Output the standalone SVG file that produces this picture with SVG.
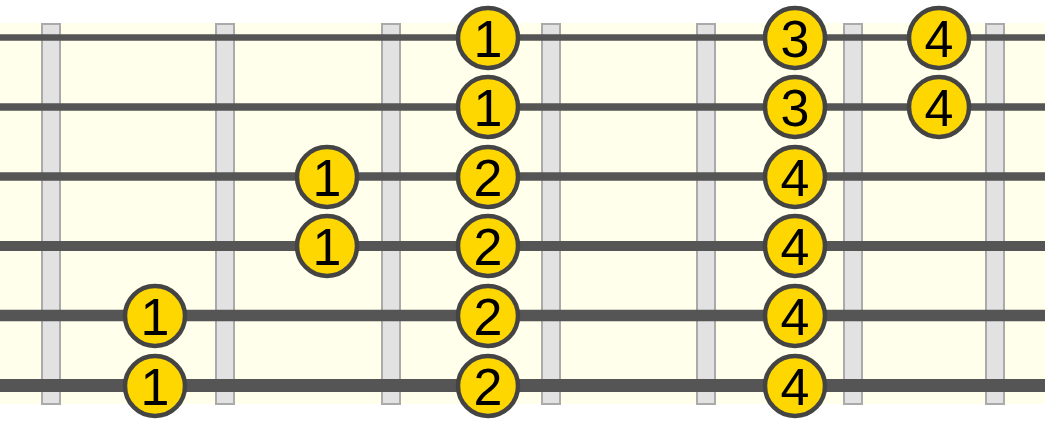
<svg xmlns="http://www.w3.org/2000/svg" width="1045" height="424" viewBox="0 0 1045 424">
<style>
.fret{fill:#e2e2e2;stroke:#aaaaaa;stroke-width:2}
.str{stroke:#555555}
.dot circle{fill:#ffd700;stroke:#444444;stroke-width:4.5}
.dot text{font-family:"Liberation Sans",Arial,sans-serif;font-size:52px;fill:#000;text-anchor:middle}
</style>
<rect x="0" y="23" width="1045" height="381" fill="#ffffec"/>
<g id="frets">
<rect class="fret" x="42" y="24" width="18" height="380"/>
<rect class="fret" x="216" y="24" width="18" height="380"/>
<rect class="fret" x="382" y="24" width="18" height="380"/>
<rect class="fret" x="542" y="24" width="18" height="380"/>
<rect class="fret" x="697" y="24" width="18" height="380"/>
<rect class="fret" x="844" y="24" width="18" height="380"/>
<rect class="fret" x="986" y="24" width="18" height="380"/>
</g>
<g id="strings">
<line class="str" x1="0" y1="37.5" x2="1045" y2="37.5" stroke-width="6.5"/>
<line class="str" x1="0" y1="107" x2="1045" y2="107" stroke-width="7.5"/>
<line class="str" x1="0" y1="176.5" x2="1045" y2="176.5" stroke-width="8.5"/>
<line class="str" x1="0" y1="246" x2="1045" y2="246" stroke-width="10"/>
<line class="str" x1="0" y1="315.5" x2="1045" y2="315.5" stroke-width="11.5"/>
<line class="str" x1="0" y1="385.5" x2="1045" y2="385.5" stroke-width="13"/>
</g>
<g id="n1" class="dot"><circle cx="488" cy="38" r="30"/><text x="488" y="57">1</text></g>
<g id="n2" class="dot"><circle cx="795" cy="38" r="30"/><text x="795" y="57">3</text></g>
<g id="n3" class="dot"><circle cx="939" cy="38" r="30"/><text x="939" y="57">4</text></g>
<g id="n4" class="dot"><circle cx="488" cy="107" r="30"/><text x="488" y="126">1</text></g>
<g id="n5" class="dot"><circle cx="795" cy="107" r="30"/><text x="795" y="126">3</text></g>
<g id="n6" class="dot"><circle cx="939" cy="107" r="30"/><text x="939" y="126">4</text></g>
<g id="n7" class="dot"><circle cx="327" cy="177" r="30"/><text x="327" y="196">1</text></g>
<g id="n8" class="dot"><circle cx="488" cy="177" r="30"/><text x="488" y="196">2</text></g>
<g id="n9" class="dot"><circle cx="795" cy="177" r="30"/><text x="795" y="196">4</text></g>
<g id="n10" class="dot"><circle cx="327" cy="246" r="30"/><text x="327" y="265">1</text></g>
<g id="n11" class="dot"><circle cx="488" cy="246" r="30"/><text x="488" y="265">2</text></g>
<g id="n12" class="dot"><circle cx="795" cy="246" r="30"/><text x="795" y="265">4</text></g>
<g id="n13" class="dot"><circle cx="155" cy="316" r="30"/><text x="155" y="335">1</text></g>
<g id="n14" class="dot"><circle cx="488" cy="316" r="30"/><text x="488" y="335">2</text></g>
<g id="n15" class="dot"><circle cx="795" cy="316" r="30"/><text x="795" y="335">4</text></g>
<g id="n16" class="dot"><circle cx="155" cy="386" r="30"/><text x="155" y="405">1</text></g>
<g id="n17" class="dot"><circle cx="488" cy="386" r="30"/><text x="488" y="405">2</text></g>
<g id="n18" class="dot"><circle cx="795" cy="386" r="30"/><text x="795" y="405">4</text></g>
</svg>
